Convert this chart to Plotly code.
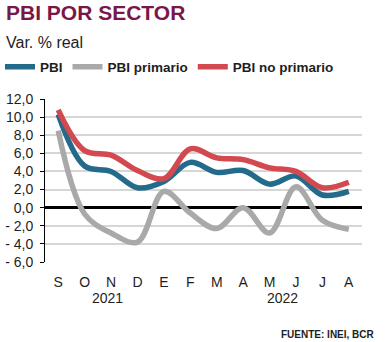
import plotly.graph_objects as go

# ---- data ----
months = ["S", "O", "N", "D", "E", "F", "M", "A", "M", "J", "J", "A"]
years = ["2021", "2022"]
pbi = [10.3, 4.6, 4.0, 2.2, 2.9, 5.0, 3.9, 4.1, 2.6, 3.5, 1.4, 1.8]
pbi_primario = [8.5, -0.7, -2.8, -3.8, 1.8, -0.6, -2.3, 0.0, -2.8, 2.3, -1.4, -2.4]
pbi_no_primario = [10.8, 6.3, 5.8, 4.1, 3.2, 6.5, 5.5, 5.3, 4.4, 4.0, 2.2, 2.8]
y_ticks = [-6, -4, -2, 0, 2, 4, 6, 8, 10, 12]


def fmt(v):
    s = f"{abs(v):.1f}".replace(".", ",")
    return ("- " + s) if v < 0 else s


# ---- layout geometry (pixels) ----
W, H = 389, 342
L, R, T, B = 45, 27, 99, 80
pw, ph = W - L - R, H - T - B


def px(x):
    return (x - L) / pw


def py(y):
    return (H - B - y) / ph


xs = list(range(len(months)))
ymin, ymax = min(y_ticks), max(y_ticks)

fig = go.Figure()
series = [
    ("PBI", pbi, "#236a8b"),
    ("PBI primario", pbi_primario, "#a9a9a9"),
    ("PBI no primario", pbi_no_primario, "#d2494f"),
]
for name, vals, col in series:
    fig.add_trace(go.Scatter(
        x=xs, y=vals, name=name, mode="lines",
        line=dict(color=col, width=5.5, shape="spline", smoothing=1),
        hoverinfo="skip",
    ))

fig.update_layout(
    width=W, height=H,
    margin=dict(l=L, r=R, t=T, b=B, autoexpand=False),
    paper_bgcolor="white", plot_bgcolor="white",
    font=dict(family="Liberation Sans, Arial, sans-serif", color="#1e1e1e"),
    showlegend=True,
    legend=dict(
        orientation="h", x=px(0), xanchor="left", y=py(67), yanchor="middle",
        font=dict(size=13.5, weight="bold", color="#1e1e1e"),
        bgcolor="rgba(0,0,0,0)", itemwidth=30, tracegroupgap=0,
    ),
    xaxis=dict(
        range=[-0.5, len(months) - 0.5],
        tickvals=xs, ticktext=months,
        showgrid=False, zeroline=False, showline=False, ticks="",
        tickfont=dict(size=14, color="#1e1e1e"),
        ticklabelstandoff=10, automargin=False,
    ),
    xaxis2=dict(
        overlaying="x", anchor="free",
        position=(0 - ymin) / (ymax - ymin),
        range=[-0.5, len(months) - 0.5],
        tickvals=[i + 0.5 for i in xs[:-1]],
        ticks="outside", ticklen=4, tickwidth=2, tickcolor="black",
        showticklabels=False, showgrid=False, zeroline=False, showline=False,
        automargin=False,
    ),
    yaxis=dict(
        range=[ymin, ymax],
        tickvals=y_ticks, ticktext=[fmt(v) for v in y_ticks],
        showgrid=True, gridcolor="#d6d6d6", gridwidth=1.5,
        zeroline=True, zerolinecolor="black", zerolinewidth=3,
        showline=True, linecolor="black", linewidth=1,
        ticks="outside", ticklen=4, tickcolor="black", tickwidth=1,
        tickfont=dict(size=14, color="#1e1e1e"),
        ticklabelstandoff=4, automargin=False,
    ),
    annotations=[
        dict(text="<b>PBI POR SECTOR</b>", xref="paper", yref="paper",
             x=px(4), y=py(13), xanchor="left", yanchor="middle",
             showarrow=False, font=dict(size=21, color="#7a1747")),
        dict(text="Var. % real", xref="paper", yref="paper",
             x=px(4), y=py(42), xanchor="left", yanchor="middle",
             showarrow=False, font=dict(size=16, color="#1e1e1e")),
        dict(text=years[0], xref="x", yref="paper",
             x=1.85, y=py(298), xanchor="center", yanchor="middle",
             showarrow=False, font=dict(size=14, color="#1e1e1e")),
        dict(text=years[1], xref="x", yref="paper",
             x=8.5, y=py(298), xanchor="center", yanchor="middle",
             showarrow=False, font=dict(size=14, color="#1e1e1e")),
        dict(text="<b>FUENTE: INEI, BCR</b>", xref="paper", yref="paper",
             x=px(377), y=py(334), xanchor="right", yanchor="middle",
             showarrow=False, font=dict(size=10, color="#1e1e1e")),
    ],
)

fig.write_html("out.html")
